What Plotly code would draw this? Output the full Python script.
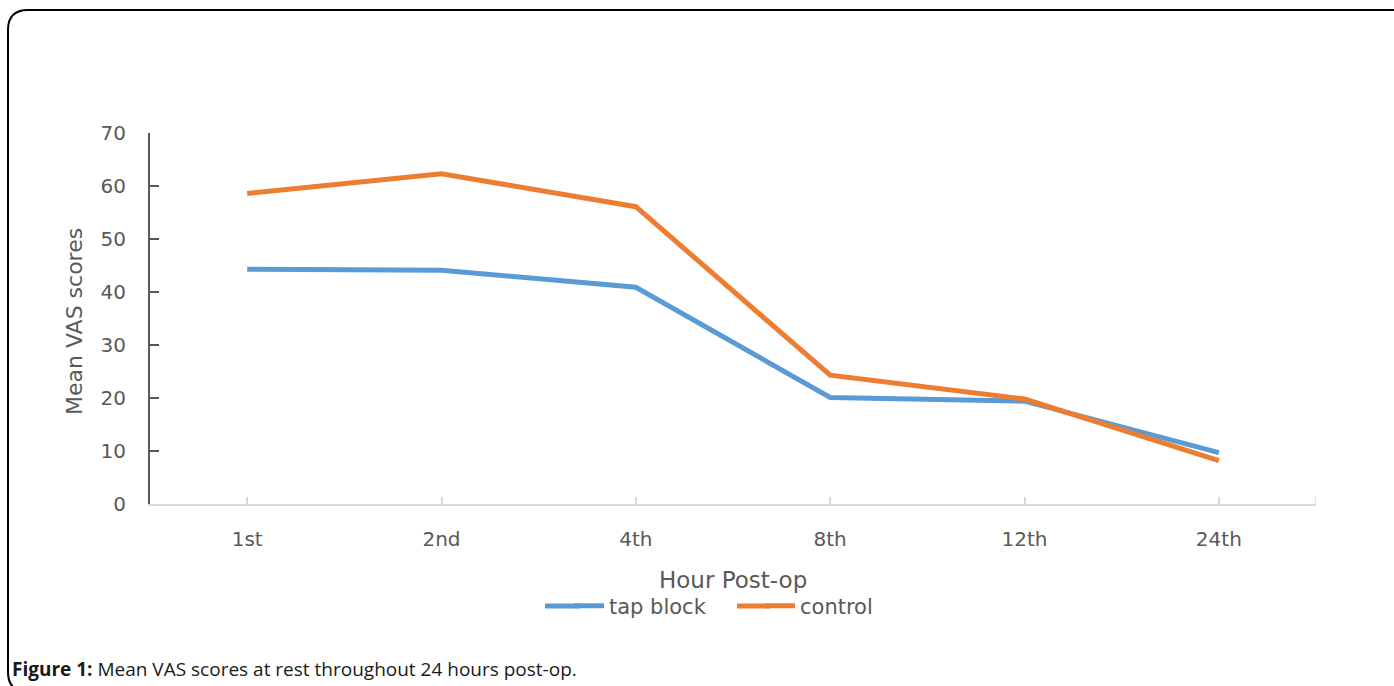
import plotly.graph_objects as go

hours = ["1st", "2nd", "4th", "8th", "12th", "24th"]
tap_block = [44.3, 44.1, 40.9, 20.1, 19.4, 9.7]
control = [58.6, 62.3, 56.1, 24.3, 19.8, 8.2]
y_ticks = [0, 10, 20, 30, 40, 50, 60, 70]

W, H = 1394, 686
L, R, T, B = 150, 1316, 133, 504
pw, ph = R - L, B - T


def px(x):
    return (x - L) / pw


def py(y):
    return (B - y) / ph


GRAY = "#595959"
FONT = "DejaVu Sans"
BLUE = "#5B9BD5"
ORANGE = "#ED7D31"

fig = go.Figure()
fig.add_trace(go.Scatter(x=hours, y=tap_block, mode="lines", name="tap block",
                         line=dict(color=BLUE, width=5)))
fig.add_trace(go.Scatter(x=hours, y=control, mode="lines", name="control",
                         line=dict(color=ORANGE, width=5)))

# rounded border frame
x0, x1 = px(8), px(1402)
y0, y1 = py(10), py(692)
rx, ry = 20 / pw, 20 / ph
path = (f"M {x1},{y0} L {x0+rx},{y0} Q {x0},{y0} {x0},{y0-ry} "
        f"L {x0},{y1+ry} Q {x0},{y1} {x0+rx},{y1} L {x1},{y1}")

leg_y = py(606)

fig.update_layout(
    width=W, height=H,
    margin=dict(l=L, r=W - R, t=T, b=H - B),
    paper_bgcolor="white", plot_bgcolor="white",
    font=dict(family=FONT, color=GRAY),
    showlegend=True,
    legend=dict(orientation="h", x=px(569), xanchor="left", y=leg_y, yanchor="middle",
                font=dict(size=21, color=GRAY, family=FONT), bgcolor="rgba(0,0,0,0)",
                entrywidth=146, entrywidthmode="pixels", tracegroupgap=0),
    xaxis=dict(type="category", range=[-0.5, 5.5], showgrid=False, zeroline=False,
               showline=True, linecolor="#d9d9d9", linewidth=1.5,
               ticks="inside", ticklen=7, tickcolor="#d9d9d9", tickwidth=1.5,
               tickfont=dict(size=20, color=GRAY, family=FONT), ticklabelstandoff=16),
    yaxis=dict(range=[0, 70], tickvals=y_ticks, showgrid=False, zeroline=False,
               showline=True, linecolor=GRAY, linewidth=2,
               ticks="inside", ticklen=9, tickcolor=GRAY, tickwidth=1.5,
               tickfont=dict(size=20, color=GRAY, family=FONT), ticklabelstandoff=18),
    shapes=[
        dict(type="line", xref="x", yref="y", x0=5.5, x1=5.5, y0=0, y1=1.3,
             line=dict(color="#d9d9d9", width=1.5)),
        dict(type="path", xref="paper", yref="paper", path=path,
             line=dict(color="black", width=2)),
        # lengthen the legend line keys to match the original's longer samples
        dict(type="line", xref="paper", yref="paper", x0=px(545), x1=px(580),
             y0=leg_y, y1=leg_y, line=dict(color=BLUE, width=5)),
        dict(type="line", xref="paper", yref="paper", x0=px(737), x1=px(770),
             y0=leg_y, y1=leg_y, line=dict(color=ORANGE, width=5)),
    ],
    annotations=[
        dict(text="Mean VAS scores", xref="paper", yref="paper", x=px(74), y=py(322),
             xanchor="center", yanchor="middle", textangle=-90, showarrow=False,
             font=dict(size=22, color=GRAY, family=FONT)),
        dict(text="Hour Post-op", xref="paper", yref="paper", x=px(733), y=py(580),
             xanchor="center", yanchor="middle", showarrow=False,
             font=dict(size=23, color=GRAY, family=FONT)),
        dict(text="<b>Figure 1:</b> Mean VAS scores at rest throughout 24 hours post-op.",
             xref="paper", yref="paper", x=px(10), y=py(669), xanchor="left", yanchor="middle",
             showarrow=False, font=dict(size=19, color="#1a1a1a", family="Open Sans")),
    ],
)

fig.write_html("out.html", config={"displayModeBar": False},
               post_script="document.body.style.margin='0';")
